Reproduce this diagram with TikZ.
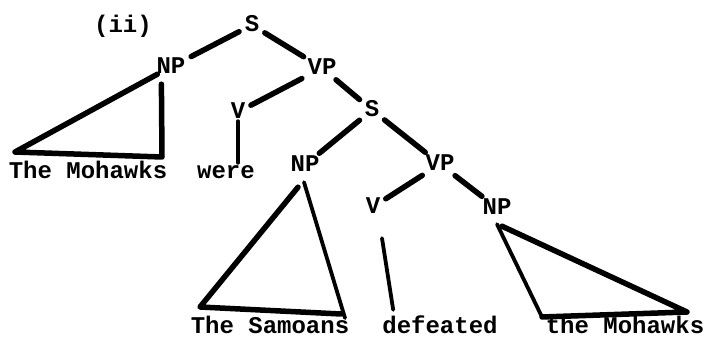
\documentclass[tikz,border=0pt]{standalone}
\usepackage{fontspec}
\setmainfont{Liberation Mono}
\begin{document}
\begin{tikzpicture}[x=1pt,y=-1pt,
  lbl/.style={inner sep=2pt,text height=14pt,text depth=0pt,font=\fontsize{24}{28}\selectfont\bfseries},
  edge/.style={line width=5.5pt,line cap=round,shorten <=4pt,shorten >=4pt},
  thinedge/.style={line width=3.8pt,line cap=round}]
\useasboundingbox (0,0) rectangle (707,339);
\node[lbl] (ii) at (123,26) {(ii)};
\node[lbl] (s1) at (252,25) {S};
\node[lbl] (np1) at (171,67) {NP};
\node[lbl] (vp1) at (322,68) {VP};
\node[lbl] (v1) at (238,112) {V};
\node[lbl] (s2) at (372,110) {S};
\node[lbl] (np2) at (305,165) {NP};
\node[lbl] (vp2) at (440,164) {VP};
\node[lbl] (v2) at (373,207) {V};
\node[lbl] (np3) at (497,208) {NP};
\node[lbl] (mohawks1) at (88,172) {The Mohawks};
\node[lbl] (were) at (226,172) {were};
\node[lbl] (samoans) at (270,326) {The Samoans};
\node[lbl] (defeated) at (440,326) {defeated};
\node[lbl] (mohawks2) at (625,326) {the Mohawks};
\coordinate (t1l) at (15,152);
\coordinate (t1r) at (162,157);
\coordinate (t2l) at (200,307);
\coordinate (t2r) at (341,314);
\coordinate (t2b) at (345,318);
\coordinate (t3l) at (542,317);
\coordinate (t3r) at (687,312);

\draw[edge] (s1) -- (np1);
\draw[edge] (s1) -- (vp1);
\draw[edge] (vp1) -- (v1);
\draw[edge] (vp1) -- (s2);
\draw[edge] (s2) -- (np2);
\draw[edge] (s2) -- (vp2);
\draw[edge] (vp2) -- (v2);
\draw[edge] (vp2) -- (np3);

\draw[edge,shorten <=0pt,shorten >=0pt,line join=round] ([shift={(3,-2)}]np1.south west) -- (t1l) -- (t1r) -- ([shift={(7,8)}]np1.south west);
\draw[thinedge] (v1.south) -- (v1.south |- were.north);

\draw[edge,shorten <=0pt,shorten >=0pt,line join=round] ([shift={(-7,13)}]np2.south) -- (t2l) -- (t2r);
\draw[thinedge] ([shift={(-1,8)}]np2.south) -- (t2b);

\draw[thinedge] ([shift={(9,22)}]v2.south) -- ([shift={(13,-7)}]defeated.north west);

\draw[thinedge] ([shift={(0,7)}]np3.south) -- (t3l);
\draw[edge,shorten <=0pt,shorten >=0pt,line join=round] ([shift={(5,9)}]np3.south) -- (t3r) -- (t3l);
\end{tikzpicture}
\end{document}
